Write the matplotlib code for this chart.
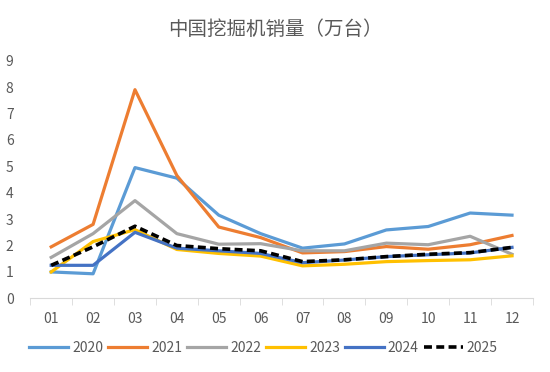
import matplotlib
matplotlib.use("Agg")
import matplotlib.pyplot as plt

plt.rcParams['font.family'] = ['Noto Sans CJK SC', 'DejaVu Sans']

months = ['01', '02', '03', '04', '05', '06', '07', '08', '09', '10', '11', '12']
y2020 = [1.0, 0.93, 4.95, 4.55, 3.15, 2.45, 1.9, 2.06, 2.59, 2.72, 3.23, 3.15]
y2021 = [1.95, 2.8, 7.9, 4.65, 2.7, 2.3, 1.72, 1.77, 1.96, 1.86, 2.03, 2.38]
y2022 = [1.55, 2.45, 3.7, 2.45, 2.05, 2.07, 1.8, 1.8, 2.09, 2.03, 2.35, 1.67]
y2023 = [1.0, 2.15, 2.6, 1.85, 1.7, 1.6, 1.23, 1.29, 1.39, 1.43, 1.46, 1.61]
y2024 = [1.25, 1.25, 2.5, 1.9, 1.8, 1.7, 1.35, 1.45, 1.58, 1.65, 1.72, 1.93]
y2025 = [1.25, 1.95, 2.73, 2.0, 1.88, 1.8, 1.39, 1.46, 1.58, 1.67, 1.73, 1.93]

series = [
    ('2020', y2020, '#5B9BD5', '-'),
    ('2021', y2021, '#ED7D31', '-'),
    ('2022', y2022, '#A5A5A5', '-'),
    ('2023', y2023, '#FFC000', '-'),
    ('2024', y2024, '#4472C4', '-'),
    ('2025', y2025, '#000000', '--'),
]

fig = plt.figure(figsize=(5.5, 3.72), dpi=100)
ax = fig.add_axes([0.055, 0.198, 0.914, 0.639])

x = list(range(len(months)))
for name, vals, color, ls in series:
    if ls == '--':
        ax.plot(x, vals, color=color, linestyle=(0, (2.2, 1.2)), linewidth=2.6, label=name)
    else:
        ax.plot(x, vals, color=color, linestyle=ls, linewidth=2.3, label=name)

ax.set_xlim(-0.5, 11.5)
ax.set_ylim(0, 9)
ax.set_yticks(range(10))
ax.set_xticks(x)
ax.set_xticklabels(months)
ax.set_xticks([i - 0.5 for i in range(13)], minor=True)
ax.tick_params(axis='x', which='major', length=0, pad=10, labelsize=10, colors='#595959')
ax.tick_params(axis='x', which='minor', length=5, color='#D9D9D9', direction='out')
ax.tick_params(axis='y', length=0, pad=12, labelsize=10, colors='#595959')

for s in ['top', 'right', 'left']:
    ax.spines[s].set_visible(False)
ax.spines['bottom'].set_color('#D9D9D9')

fig.text(0.5, 0.922, '中国挖掘机销量（万台）', ha='center', va='center',
         fontsize=14, color='#595959')

ax.legend(loc='center', bbox_to_anchor=(0.464, -0.21), ncol=6, frameon=False,
          fontsize=10, handlelength=2.8, handletextpad=0.3, columnspacing=0.35,
          labelcolor='#595959', borderpad=0)

fig.savefig('out.png', dpi=100)
